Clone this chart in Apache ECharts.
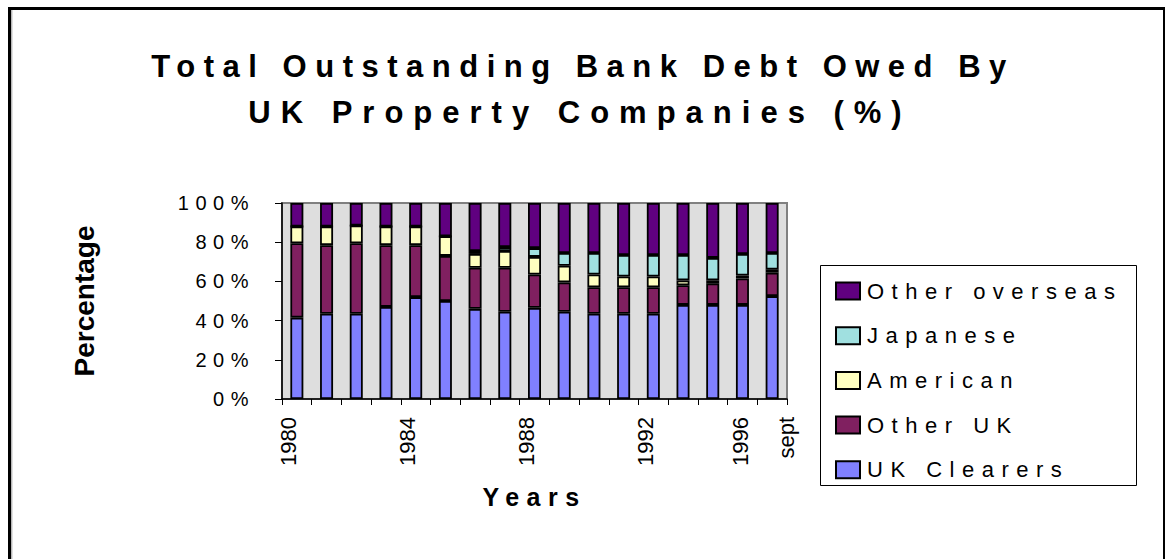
<!DOCTYPE html>
<html>
<head>
<meta charset="utf-8">
<title>Total Outstanding Bank Debt Owed By UK Property Companies</title>
<script src="https://cdn.jsdelivr.net/npm/echarts@6/dist/echarts.min.js"></script>
<style>
  html, body { margin: 0; padding: 0; background: #ffffff; }
  #chart { width: 1165px; height: 559px; }
</style>
</head>
<body>
<div id="chart"></div>
<script>
// Categories along the x axis (one bar each) and the labels that are printed
const categories = ['1980', '1981', '1982', '1983', '1984', '1985', '1986', '1987', '1988',
  '1989', '1990', '1991', '1992', '1993', '1994', '1996', 'sept'];
const shownLabels = ['1980', '1984', '1988', '1992', '1996', 'sept'];

// Share of outstanding bank debt by lender group (%)
const ukClearers    = [41.5, 43.5, 43.5, 47.0, 52.0, 50.0, 46.0, 44.5, 46.5, 44.5, 43.5, 43.5, 43.5, 48.0, 48.0, 48.0, 52.5];
const otherUK       = [38.0, 35.0, 36.0, 31.5, 26.5, 23.0, 21.0, 22.5, 17.0, 15.0, 13.5, 13.5, 13.5, 10.0, 11.0, 13.5, 12.0];
const american      = [ 8.5,  9.5,  9.0,  9.5,  9.5, 10.0,  7.0,  8.5,  9.0,  8.5,  6.5,  5.5,  5.5,  2.5,  1.5,  1.5,  1.5];
const japanese      = [ 0.0,  0.0,  0.0,  0.0,  0.0,  0.0,  1.5,  2.0,  4.5,  6.5, 11.0, 11.0, 11.0, 13.0, 11.5, 11.0,  8.5];
const otherOverseas = [12.0, 12.0, 11.5, 12.0, 12.0, 17.0, 24.5, 22.5, 23.0, 25.5, 25.5, 26.5, 26.5, 26.5, 28.0, 26.0, 25.5];

const yTicks = [0, 20, 40, 60, 80, 100];

const titleLines = ['Total Outstanding Bank Debt Owed By', 'UK Property Companies (%)'];
const xName = 'Years';
const yName = 'Percentage';

const seriesDefs = [
  { name: 'UK Clearers',    data: ukClearers,    color: '#8080ff' },
  { name: 'Other UK',       data: otherUK,       color: '#802060' },
  { name: 'American',       data: american,      color: '#ffffc0' },
  { name: 'Japanese',       data: japanese,      color: '#a0e0e0' },
  { name: 'Other overseas', data: otherOverseas, color: '#600080' }
];

const FONT = '"Liberation Sans", Arial, Helvetica, sans-serif';

const chart = echarts.init(document.getElementById('chart'), null, { renderer: 'svg' });

// x labels sit slightly off their bar, the last one at the right edge of the plot
function labelStyleFor(v) {
  if (v === 'sept') return 'tail';
  if (v === '1996') return 'near';
  return 'std';
}

const option = {
  animation: false,
  backgroundColor: '#ffffff',
  textStyle: { fontFamily: FONT },
  graphic: [
    // outer frame
    { type: 'rect', shape: { x: 9.5, y: 8.5, width: 1155, height: 620 },
      style: { fill: null, stroke: '#000000', lineWidth: 3 }, silent: true },
    { type: 'line', shape: { x1: 11.8, y1: 10, x2: 11.8, y2: 559 },
      style: { stroke: '#9a9a9a', lineWidth: 1 }, silent: true },
    // title
    { type: 'text', x: 583, y: 66, silent: true,
      style: { text: titleLines[0], fontSize: 31, fontWeight: 'bold', fontFamily: FONT,
               fill: '#000000', textAlign: 'center', textVerticalAlign: 'middle' } },
    { type: 'text', x: 580, y: 112, silent: true,
      style: { text: titleLines[1], fontSize: 31, fontWeight: 'bold', fontFamily: FONT,
               fill: '#000000', textAlign: 'center', textVerticalAlign: 'middle' } },
    // legend box
    { type: 'rect', shape: { x: 820.5, y: 265.5, width: 316, height: 220 },
      style: { fill: '#ffffff', stroke: '#000000', lineWidth: 1 }, silent: true, z: -1 }
  ],
  legend: {
    orient: 'vertical',
    left: 835,
    top: 279,
    padding: 0,
    itemWidth: 24,
    itemHeight: 17,
    itemGap: 20.7,
    icon: 'rect',
    selectedMode: false,
    data: ['Other overseas', 'Japanese', 'American', 'Other UK', 'UK Clearers'],
    itemStyle: { borderColor: '#000000', borderWidth: 2 },
    textStyle: { fontSize: 22, lineHeight: 24, color: '#000000', fontFamily: FONT, padding: [0, 0, 0, 2] }
  },
  grid: {
    left: 282, top: 203, width: 505, height: 196,
    show: true, backgroundColor: '#dedede', borderColor: '#808080', borderWidth: 2
  },
  xAxis: {
    type: 'category',
    data: categories,
    name: xName,
    nameLocation: 'middle',
    nameGap: 85,
    nameTextStyle: { fontSize: 25, fontWeight: 'bold', color: '#000000', fontFamily: FONT },
    axisLine: { lineStyle: { color: '#000000', width: 1.5 } },
    axisTick: { show: true, interval: 0, length: 6, lineStyle: { color: '#000000', width: 1 } },
    axisLabel: {
      interval: 0,
      rotate: 90,
      margin: 18,
      color: '#000000',
      fontSize: 22,
      fontFamily: FONT,
      formatter: function (v) {
        return shownLabels.indexOf(v) >= 0 ? '{' + labelStyleFor(v) + '|' + v + '}' : '';
      },
      rich: {
        std:  { fontSize: 22, fontFamily: FONT, color: '#000000', padding: [0, 0, 16, 0] },
        near: { fontSize: 22, fontFamily: FONT, color: '#000000', padding: [0, 0, 4, 0] },
        tail: { fontSize: 22, fontFamily: FONT, color: '#000000', padding: [29, 0, 0, 0] }
      }
    },
    splitLine: { show: false }
  },
  yAxis: {
    type: 'value',
    min: yTicks[0],
    max: yTicks[yTicks.length - 1],
    interval: yTicks[1] - yTicks[0],
    name: yName,
    nameLocation: 'middle',
    nameGap: 184,
    nameRotate: 90,
    nameTextStyle: { fontSize: 28, fontWeight: 'bold', color: '#000000', fontFamily: FONT },
    axisLine: { show: true, lineStyle: { color: '#000000', width: 1.5 } },
    axisTick: { show: true, length: 7, lineStyle: { color: '#000000', width: 1 } },
    axisLabel: { margin: 27, fontSize: 20, color: '#000000', fontFamily: FONT, formatter: '{value}%' },
    splitLine: { show: false }
  },
  series: seriesDefs.map(function (s) {
    return {
      name: s.name,
      type: 'bar',
      stack: 'total',
      barWidth: 13,
      data: s.data,
      itemStyle: { color: s.color, borderColor: '#000000', borderWidth: 1.8 },
      emphasis: { disabled: true }
    };
  })
};

chart.setOption(option);

// Excel-style wide tracking on the spaced-out texts
function letterSpacingFor(s) {
  if (s === titleLines[0]) return 8.5;
  if (s === titleLines[1]) return 10;
  if (s === xName) return 7.5;
  if (seriesDefs.some(function (d) { return d.name === s; })) return 7.5;
  if (/^\d+%$/.test(s)) return 6.5;
  return 0;
}
function applySpacing() {
  chart.getDom().querySelectorAll('text').forEach(function (t) {
    const ls = letterSpacingFor(t.textContent);
    if (ls) t.setAttribute('letter-spacing', ls);
  });
}
applySpacing();
chart.on('finished', applySpacing);
</script>
</body>
</html>
